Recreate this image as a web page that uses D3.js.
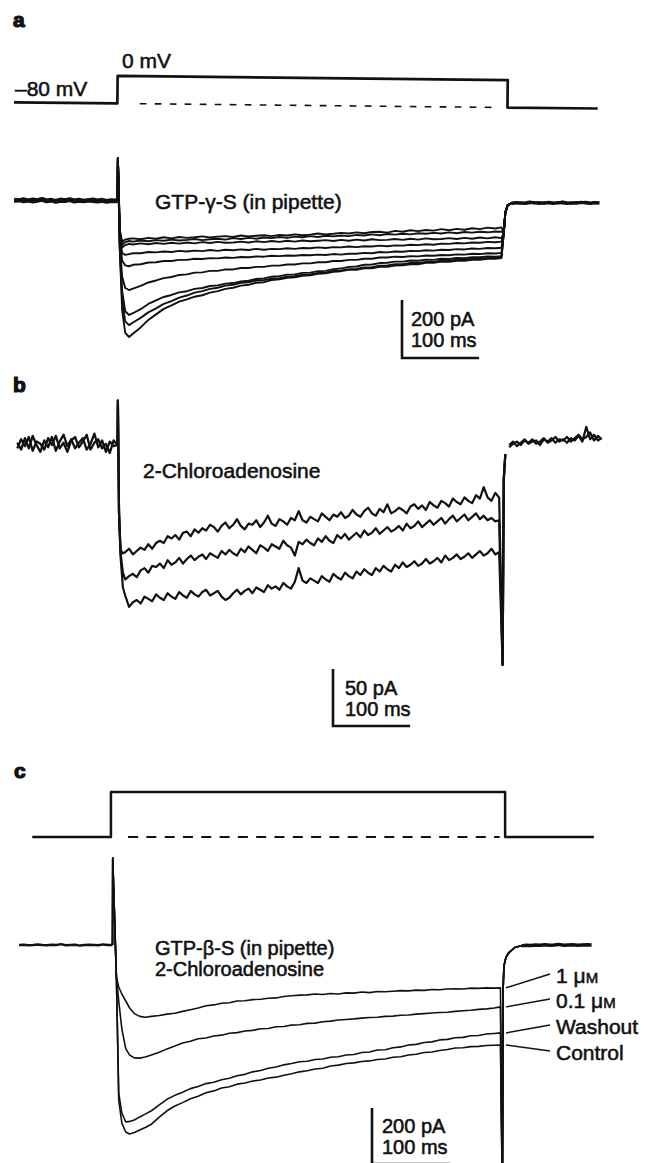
<!DOCTYPE html>
<html>
<head>
<meta charset="utf-8">
<script src="https://cdn.jsdelivr.net/npm/d3@7"></script>
<style>
body { margin:0; background:#fff; }
svg text { font-family:"Liberation Sans", Arial, Helvetica, sans-serif; fill:#111; stroke:#111; stroke-width:0.55; }
svg text.plab { font-weight:bold; stroke-width:1.2; }
</style>
</head>
<body>
<div id="chart"></div>
<script>
// ---------- panel a : GTP-gamma-S, 9 sweeps (pA), command step -80 -> 0 mV ----------
var tA = [0,0.5,3,6,10,15,20,30,40,50,60,70,80,90,100,110,120,130,140,150,160,170,180,190,200,210,220,230,240,250,
          260,270,280,290,300,310,320,330,340,350,360,370,380,390,400,410,420,430,440,450,460,470,480,490,498]
var aSweeps = [
  [3,148,-100,-140,-133,-130,-129,-132,-127,-130,-125,-129,-124,-127,-125,-122,-126,-123,-121,-124,-119,-122,-120,-118,-121,-117,-119,-115,-118,-116,-112,-115,-113,-110,-112,-108,-111,-107,-106,-109,-103,-106,-101,-104,-100,-102,-97,-101,-96,-99,-94,-97,-92,-95,-91],
  [3,148,-105,-150,-142,-138,-140,-136,-139,-135,-137,-133,-136,-134,-131,-135,-132,-130,-133,-128,-131,-127,-130,-126,-128,-124,-127,-123,-125,-121,-124,-120,-122,-119,-121,-117,-119,-115,-118,-114,-116,-113,-115,-111,-113,-110,-112,-108,-111,-107,-109,-106,-108,-105,-106],
  [3,148,-110,-160,-152,-148,-150,-146,-149,-145,-148,-144,-147,-143,-146,-142,-145,-141,-144,-143,-140,-143,-139,-142,-138,-141,-137,-140,-136,-139,-137,-135,-138,-134,-137,-133,-136,-132,-135,-134,-131,-134,-130,-133,-129,-132,-131,-128,-131,-127,-130,-126,-129,-125,-128],
  [3,148,-120,-180,-186,-183,-180,-180,-176,-177,-174,-176,-172,-174,-171,-173,-169,-172,-168,-170,-167,-169,-165,-168,-165,-166,-163,-165,-162,-163,-160,-162,-159,-160,-157,-159,-156,-157,-154,-156,-153,-154,-151,-152,-149,-151,-147,-148,-145,-146,-143,-144,-141,-142,-140],
  [3,148,-130,-205,-222,-225,-220,-218,-212,-211,-207,-207,-203,-203,-199,-200,-197,-198,-195,-196,-193,-194,-191,-192,-189,-190,-188,-189,-186,-187,-185,-186,-183,-185,-182,-182,-179,-180,-176,-177,-174,-175,-172,-173,-170,-171,-168,-169,-166,-167,-164,-165,-162,-163,-161],
  [3,148,-150,-260,-300,-307,-302,-293,-281,-274,-266,-262,-255,-253,-247,-246,-241,-241,-236,-236,-231,-231,-227,-227,-223,-223,-219,-219,-215,-215,-211,-211,-207,-207,-203,-203,-199,-199,-195,-195,-192,-193,-190,-191,-188,-189,-186,-187,-184,-185,-182,-183,-180,-181,-179],
  [3,148,-160,-310,-380,-393,-387,-373,-355,-343,-331,-324,-315,-311,-303,-300,-293,-291,-285,-283,-277,-275,-269,-267,-261,-259,-254,-253,-248,-247,-242,-241,-235,-233,-227,-226,-220,-219,-214,-213,-209,-209,-205,-206,-202,-203,-199,-200,-196,-197,-194,-194,-191,-192,-190],
  [3,148,-165,-340,-415,-428,-419,-403,-384,-370,-355,-345,-333,-326,-316,-311,-303,-299,-292,-289,-282,-280,-274,-273,-268,-266,-261,-259,-254,-253,-248,-247,-241,-240,-235,-234,-229,-228,-223,-222,-218,-218,-214,-214,-210,-210,-206,-206,-202,-202,-199,-199,-196,-196,-194],
  [3,148,-169,-376,-455,-469,-458,-436,-410,-391,-372,-360,-347,-339,-330,-325,-316,-311,-303,-299,-292,-289,-282,-280,-273,-270,-265,-263,-258,-256,-251,-249,-244,-242,-237,-237,-232,-232,-227,-227,-223,-222,-218,-218,-213,-213,-209,-210,-206,-206,-203,-203,-199,-199,-197]
]
var aTailT = [501, 503, 506, 511]
var aTailV = [-110, -40, -15, -7]
var aPreT  = [-134,-128,-122,-116,-110,-104,-98,-92,-86,-80,-74,-68,-62,-56,-50,-44,-38,-32,-26,-20,-14,-8,-2,0]
var aPre1  = [4,2,6,1,5,3,7,2,4,0,5,3,6,2,4,1,3,5,2,4,0,3,2,3]
var aPre2  = [0,3,-1,2,-2,1,4,-1,2,-3,1,0,3,-2,1,-1,2,0,-2,1,-3,0,-1,0]
var aPostT = [511,517,523,529,535,541,547,553,559,565,571,577,583,589,595,601,607,613,619,625]
var aPost1 = [-7,-5,-8,-6,-3,-7,-5,-8,-4,-6,-7,-3,-6,-8,-5,-6,-4,-7,-5,-6]
var aPost2 = [-9,-7,-6,-9,-6,-5,-9,-6,-7,-9,-5,-7,-9,-6,-8,-4,-7,-9,-6,-7]
var vATimes = [-134, 0, 0, 506, 506, 623]
var vAValues = [-80, -80, 0, 0, -80, -80]
var dashATimes = [29, 487]

// ---------- panel b : 2-chloroadenosine, 3 sweeps (pA) ----------
var tBOnset = [0, 0.5, 2, 4, 7]
var tBBody = d3.range(10, 496, 5)
var bSweeps = [
  [0,39,-60,-92,-95,
   -94,-91,-96,-93,-90,-92,-87,-91,-86,-84,-86,-80,-82,-79,-83,-77,-76,-80,-74,-77,
   -73,-75,-70,-72,-76,-71,-68,-73,-70,-65,-71,-74,-69,-70,-66,-72,-68,-62,-69,-71,
   -65,-67,-70,-64,-66,-58,-66,-68,-63,-65,-67,-60,-63,-66,-61,-63,-59,-64,-62,-57,
   -61,-63,-58,-55,-60,-62,-56,-59,-52,-60,-58,-55,-57,-60,-54,-52,-56,-53,-57,-50,
   -53,-55,-49,-51,-54,-47,-50,-52,-46,-49,-51,-44,-47,-37,-46,-49,-42,-46],
  [0,39,-60,-95,-112,
   -118,-115,-113,-116,-110,-108,-112,-106,-107,-104,-108,-101,-105,-103,-99,-104,-100,-97,-101,-98,
   -96,-100,-95,-97,-99,-93,-96,-92,-95,-97,-91,-94,-89,-92,-95,-88,-90,-93,-87,-89,
   -91,-84,-88,-90,-97,-85,-87,-83,-86,-88,-82,-85,-80,-84,-86,-79,-82,-78,-83,-80,
   -77,-81,-75,-79,-77,-73,-78,-75,-72,-76,-74,-71,-75,-69,-73,-71,-67,-72,-69,-66,
   -70,-67,-64,-69,-65,-62,-67,-64,-61,-66,-63,-60,-65,-62,-66,-64,-67,-66],
  [0,39,-60,-98,-125,
   -132,-142,-138,-136,-139,-133,-135,-137,-131,-134,-136,-130,-133,-135,-129,-132,-134,-128,-131,-133,
   -129,-127,-132,-130,-128,-133,-136,-134,-130,-127,-131,-128,-126,-130,-125,-127,-129,-123,-126,-124,
   -127,-121,-124,-126,-120,-108,-119,-121,-117,-119,-121,-115,-118,-120,-113,-116,-118,-112,-115,-117,
   -111,-114,-109,-112,-114,-108,-111,-106,-109,-111,-105,-108,-103,-107,-105,-102,-106,-104,-100,-104,
   -102,-99,-103,-97,-101,-99,-96,-100,-98,-95,-99,-96,-93,-97,-95,-91,-96,-94]
]
var bTailT = [499.5, 501, 503]
var bTailV = [-193, -30, -8]
var bPreT  = d3.range(-130, 1, 5)
var bPre1  = [2,-4,6,-3,8,0,-6,4,-2,7,-5,3,9,-1,5,-3,2,6,-4,1,10,-2,4,-6,3,-1,0]
var bPre2  = [-3,5,-1,7,-5,3,1,-4,6,0,8,-3,2,-6,4,7,-2,3,9,-4,2,5,-3,1,-7,4,0]
var bPostT = d3.range(508, 630, 5)
var bPost1 = [-2,1,3,0,4,2,5,1,3,6,2,4,7,3,5,2,6,4,8,3,16,5,9,4,6]
var bPost2 = [0,3,-1,2,5,1,3,4,0,5,3,6,2,5,4,7,3,6,9,5,7,11,4,8,5]

// ---------- panel c : GTP-beta-S + 2-chloroadenosine (pA) ----------
var tC = [0,0.3,5,8,12,17,22,28,35,42,50].concat(d3.range(60, 500, 10)).concat([498])
var cNames = ["1 \u03bcM", "0.1 \u03bcM", "Washout", "Control"]
var cSweeps = [
  [0,311,-115,-150,-175,-200,-225,-245,-255,-258,-255,
   -252,-247,-244,-237,-231,-225,-217,-214,-208,-206,-200,-199,-195,-194,-190,-189,-184,-181,-179,-178,
   -175,-177,-173,-175,-171,-172,-168,-170,-166,-167,-165,-163,-164,-161,-162,-159,-160,-157,-156,-157,
   -154,-155,-153,-154,-153],
  [0,311,-115,-200,-300,-370,-393,-403,-404,-400,-393,
   -383,-371,-361,-350,-344,-335,-332,-325,-322,-315,-313,-307,-305,-299,-298,-292,-291,-286,-285,-280,
   -279,-274,-272,-268,-266,-264,-261,-259,-258,-255,-254,-251,-250,-247,-245,-243,-241,-240,-237,-235,
   -233,-230,-228,-225,-221],
  [0,311,-115,-529,-600,-632,-630,-625,-614,-604,-592,
   -571,-551,-537,-526,-513,-505,-495,-490,-481,-476,-467,-462,-453,-448,-440,-436,-428,-423,-417,-415,
   -409,-407,-401,-399,-393,-391,-384,-382,-375,-374,-367,-364,-357,-355,-348,-346,-339,-337,-331,-330,
   -324,-323,-318,-316,-314],
  [0,311,-115,-554,-636,-668,-675,-670,-661,-652,-640,
   -615,-592,-575,-563,-549,-540,-528,-521,-511,-506,-497,-493,-486,-482,-475,-472,-465,-460,-453,-449,
   -443,-440,-432,-429,-423,-421,-416,-414,-409,-407,-401,-399,-393,-390,-384,-382,-377,-373,-368,-367,
   -363,-362,-359,-358,-357]
]
var cTailT = [500.5, 501.5, 502.5, 505, 508, 511, 517, 525]
var cTailV = [-900, -150, -75, -45, -30, -22, -8, -3]
var cPreT  = d3.range(-120, 1, 6)
var cPre   = [0,1,-1,0,2,0,-1,1,0,3,-1,0,1,-2,0,1,0,-1,2,0,0]
var cPostT = d3.range(525, 620, 6)
var cPost  = [-3,-1,-2,0,-1,1,-1,0,2,-1,0,1,-1,0,1,0]
var vCTimes = [-103, -2, -2, 504, 504, 618]
var vCValues = [-80, -80, 0, 0, -80, -80]
var dashCTimes = [20, 497]

// ---------- drawing ----------
var W = 658, H = 1163
var svg = d3.select('#chart').append('svg')
    .attr('width', W).attr('height', H)
svg.append('rect').attr('width', W).attr('height', H).attr('fill', '#fff')

var ink = '#111'

function trace(g, x, y, ts, vs, w, dash) {
    var pts = ts.map((t, i) => [t, vs[i]])
    var p = g.append('path').datum(pts)
        .attr('d', d3.line().x(d => x(d[0])).y(d => y(d[1])))
        .attr('fill', 'none')
        .attr('stroke', ink)
        .attr('stroke-width', w)
        .attr('stroke-linejoin', 'round')
    if (dash) p.attr('stroke-dasharray', dash)
    return p
}

function label(x, y, s, size) {
    return svg.append('text').attr('x', x).attr('y', y)
        .style('font-size', (size || 21) + 'px').text(s)
}

function scaleBar(x, y, bx, top, pA, ms, l1, l2, dx, b1, b2) {
    var h = y(-pA) - y(0)
    var w = x(ms) - x(0)
    svg.append('path')
        .attr('d', 'M' + bx + ',' + top + 'V' + (top + h) + 'H' + (bx + w))
        .attr('fill', 'none').attr('stroke', ink).attr('stroke-width', 2.6)
    label(bx + dx, top + b1, l1, 20)
    label(bx + dx, top + b2, l2, 20)
}

// panel a
var xA = d3.scaleLinear().domain([0, 500]).range([117.5, 503])
var vA = d3.scaleLinear().domain([-80, 0]).range([105.5, 78])
var iA = d3.scaleLinear().domain([0, -200]).range([201, 259])

svg.append('text').attr('class', 'plab').attr('x', 13).attr('y', 27).style('font-size', '21px').text('a')
var gVA = svg.append('g').attr('transform', 'rotate(0.6,312,92)')
trace(gVA, xA, vA, vATimes, vAValues, 2.7)
trace(gVA, xA, vA, dashATimes, [-80, -80], 1.6, '6.7,8.3')
label(15, 96, '\u201380 mV')
label(122, 68, '0 mV')

var gIA = svg.append('g')
trace(gIA, xA, iA, aPreT, aPre1, 4)
trace(gIA, xA, iA, aPreT, aPre2, 4)
aSweeps.forEach(s => trace(gIA, xA, iA, tA.concat(aTailT), s.concat(aTailV), 1.9))
trace(gIA, xA, iA, aPostT, aPost1, 3)
trace(gIA, xA, iA, aPostT, aPost2, 3)
label(155, 209, 'GTP-\u03b3-S (in pipette)')
scaleBar(xA, iA, 402, 300, 200, 100, '200 pA', '100 ms', 9, 26, 47)

// panel b
var xB = d3.scaleLinear().domain([0, 500]).range([117.5, 503])
var iB = d3.scaleLinear().domain([0, -50]).range([445, 502])
var tB = tBOnset.concat(tBBody)

svg.append('text').attr('class', 'plab').attr('x', 13).attr('y', 392).style('font-size', '21px').text('b')
var gIB = svg.append('g')
trace(gIB, xB, iB, bPreT, bPre1, 2.3)
trace(gIB, xB, iB, bPreT, bPre2, 2.3)
bSweeps.forEach(s => trace(gIB, xB, iB, tB.concat(bTailT), s.concat(bTailV), 2.2))
trace(gIB, xB, iB, bPostT, bPost1, 2.2)
trace(gIB, xB, iB, bPostT, bPost2, 2.2)
label(143, 478, '2-Chloroadenosine')
scaleBar(xB, iB, 333, 669, 50, 100, '50 pA', '100 ms', 12, 26, 47)

// panel c
var xC = d3.scaleLinear().domain([0, 500]).range([112.5, 502])
var vC = d3.scaleLinear().domain([-80, 0]).range([837, 792])
var iC = d3.scaleLinear().domain([0, -200]).range([945, 1001])

svg.append('text').attr('class', 'plab').attr('x', 14).attr('y', 778).style('font-size', '21px').text('c')
var gVC = svg.append('g')
trace(gVC, xC, vC, vCTimes, vCValues, 2.5)
trace(gVC, xC, vC, dashCTimes, [-80, -80], 1.9, '10,8.3')

var gIC = svg.append('g')
trace(gIC, xC, iC, cPreT, cPre, 2.4)
cSweeps.forEach(s => trace(gIC, xC, iC, tC.concat(cTailT), s.concat(cTailV), 1.6))
trace(gIC, xC, iC, cPostT, cPost, 3.4)
label(155, 955, 'GTP-\u03b2-S (in pipette)', 20)
label(155, 976, '2-Chloroadenosine', 20)

// sweep labels with leader lines
var cLabelBase = [983, 1008, 1034, 1060]
cSweeps.forEach((s, i) => {
    var yEnd = iC(s[s.length - 1])
    svg.append('line')
        .attr('x1', 506).attr('y1', yEnd)
        .attr('x2', 550).attr('y2', cLabelBase[i] - 9)
        .attr('stroke', ink).attr('stroke-width', 1.5)
    var name = cNames[i]
    var t = svg.append('text').attr('x', 556).attr('y', cLabelBase[i]).style('font-size', '21px')
    if (name.endsWith('M')) {
        t.append('tspan').text(name.slice(0, -1))
        t.append('tspan').style('font-size', '15px').text('M')
    } else {
        t.text(name)
    }
})
scaleBar(xC, iC, 372, 1108, 200, 100, '200 pA', '100 ms', 10, 25, 46)
</script>
</body>
</html>
